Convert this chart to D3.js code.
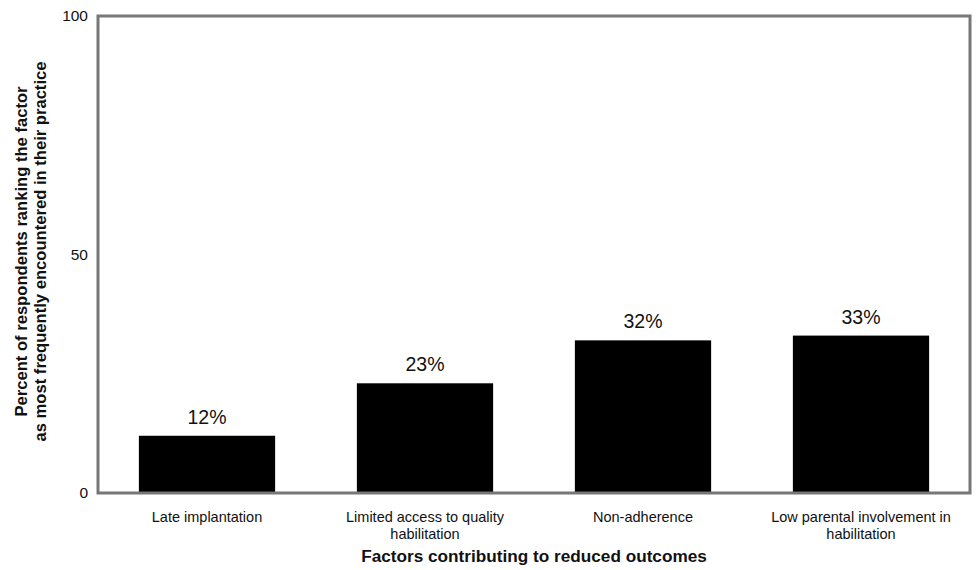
<!DOCTYPE html>
<html><head><meta charset="utf-8">
<script src="https://cdn.jsdelivr.net/npm/d3@7"></script>
<style>body{margin:0;background:#fff;} text{font-family:"Liberation Sans",Arial,sans-serif;}</style>
</head><body><svg id="c" width="976" height="570"></svg>
<script>
const categories = [["Late implantation"],["Limited access to quality","habilitation"],["Non-adherence"],["Low parental involvement in","habilitation"]];
const values = [12, 23, 32, 33];
const valueLabels = ["12%","23%","32%","33%"];
const yTicks = [0, 50, 100];

const svg = d3.select("#c");
const m = {l:98, t:16, r:970, b:493};
const x = d3.scaleBand().domain(d3.range(values.length)).range([m.l, m.r]).paddingInner(0.375).paddingOuter(0.1875);
const y = d3.scaleLinear().domain([0,100]).range([m.b, m.t]);

svg.selectAll("rect.bar").data(values).join("rect").attr("class","bar")
  .attr("x",(d,i)=>x(i)).attr("width",x.bandwidth())
  .attr("y",d=>y(d)).attr("height",d=>y(0)-y(d)).attr("fill","#000");

svg.append("rect").attr("x",m.l).attr("y",m.t).attr("width",m.r-m.l).attr("height",m.b-m.t)
  .attr("fill","none").attr("stroke","#777").attr("stroke-width",3);

const ya = svg.append("g").attr("transform",`translate(${m.l},0)`)
  .call(d3.axisLeft(y).tickValues(yTicks).tickSize(0).tickPadding(10));
ya.select(".domain").remove();
ya.selectAll("text").attr("font-size",15.5).attr("fill","#111").style("font-family","Liberation Sans, Arial, sans-serif");

svg.selectAll("text.val").data(values).join("text").attr("class","val")
  .attr("x",(d,i)=>x(i)+x.bandwidth()/2).attr("y",d=>y(d)-12)
  .attr("text-anchor","middle").attr("font-size",19.5).attr("fill","#111")
  .text((d,i)=>valueLabels[i]);

const xl = svg.selectAll("text.cat").data(categories).join("text").attr("class","cat")
  .attr("x",(d,i)=>x(i)+x.bandwidth()/2).attr("y",522)
  .attr("text-anchor","middle").attr("font-size",14.5).attr("fill","#111");
xl.selectAll("tspan").data(d=>d).join("tspan")
  .attr("x",function(){return this.parentNode.getAttribute("x");})
  .attr("dy",(d,i)=>i===0?0:17).text(d=>d);

svg.append("text").attr("x",(m.l+m.r)/2).attr("y",562).attr("text-anchor","middle")
  .attr("font-size",17.2).attr("font-weight","bold").attr("fill","#111")
  .text("Factors contributing to reduced outcomes");

const yt = svg.append("text").attr("transform",`translate(27,${(m.t+m.b)/2 - 3}) rotate(-90)`)
  .attr("text-anchor","middle").attr("font-size",16.6).attr("font-weight","bold").attr("fill","#111");
yt.append("tspan").attr("x",0).attr("dy",0).text("Percent of respondents ranking the factor");
yt.append("tspan").attr("x",0).attr("dy",19).text("as most frequently encountered in their practice");
</script></body></html>
